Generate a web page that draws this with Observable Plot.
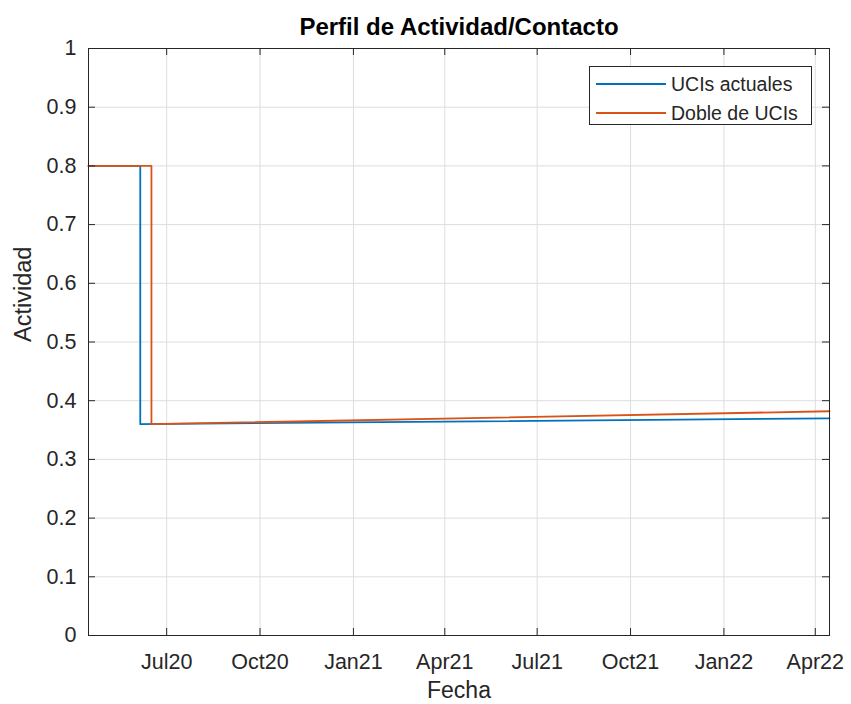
<!DOCTYPE html>
<html>
<head>
<meta charset="utf-8">
<script src="https://cdn.jsdelivr.net/npm/d3@7"></script>
<script src="https://cdn.jsdelivr.net/npm/@observablehq/plot@0.6"></script>
<style>
  body { margin: 0; background: #fff; }
  #wrap { position: relative; width: 851px; height: 704px; font-family: "Liberation Sans", Arial, Helvetica, sans-serif; }
  #legend { position: absolute; left: 589px; top: 66px; width: 221px; height: 57px; border: 1px solid #262626; background: #fff; box-sizing: content-box; }
  .item { position: absolute; left: 0; height: 24px; display: flex; align-items: center; font-size: 19.5px; color: #262626; }
  .item span.sw { display: inline-block; width: 70px; height: 2px; margin-left: 6px; margin-right: 5px; }
</style>
</head>
<body>
<div id="wrap"></div>
<script>
// Series data
const series = ["UCIs actuales", "Doble de UCIs"];
const colors = ["#0072BD", "#D95319"];
const fechasActual = ["2020-04-15", "2020-06-05", "2020-06-05", "2022-04-15"];
const valoresActual = [0.8, 0.8, 0.36, 0.370];
const fechasDoble = ["2020-04-15", "2020-06-16", "2020-06-16", "2022-04-15"];
const valoresDoble = [0.8, 0.8, 0.36, 0.382];
const xTicks = ["2020-07-01", "2020-10-01", "2021-01-01", "2021-04-01", "2021-07-01", "2021-10-01", "2022-01-01", "2022-04-01"];
const xTickLabels = ["Jul20", "Oct20", "Jan21", "Apr21", "Jul21", "Oct21", "Jan22", "Apr22"];
const yTicks = [0, 0.1, 0.2, 0.3, 0.4, 0.5, 0.6, 0.7, 0.8, 0.9, 1];
const yTickLabels = ["0", "0.1", "0.2", "0.3", "0.4", "0.5", "0.6", "0.7", "0.8", "0.9", "1"];
const xDomain = ["2020-04-15", "2022-04-15"];
const title = "Perfil de Actividad/Contacto";
const xLabel = "Fecha";
const yLabel = "Actividad";

const parse = d3.utcParse("%Y-%m-%d");
const toRows = (fechas, vals, s) => fechas.map((f, i) => ({fecha: parse(f), valor: vals[i], serie: s}));
const rowsActual = toRows(fechasActual, valoresActual, series[0]);
const rowsDoble = toRows(fechasDoble, valoresDoble, series[1]);
const xT = xTicks.map(parse);
const xLab = new Map(xT.map((d, i) => [+d, xTickLabels[i]]));
const yLab = new Map(yTicks.map((d, i) => [d, yTickLabels[i]]));

const W = 851, H = 704, mT = 48, mB = 69, mL = 88, mR = 22;
const innerH = H - mT - mB, innerW = W - mL - mR;
const ink = "#262626", grid = "#dedede", tickLen = 7;

const chart = Plot.plot({
  width: W, height: H,
  marginTop: mT, marginBottom: mB, marginLeft: mL, marginRight: mR,
  style: {fontFamily: "'Liberation Sans', Arial, Helvetica, sans-serif", fontSize: "21.5px", color: ink, background: "#fff"},
  x: {type: "utc", domain: xDomain.map(parse)},
  y: {domain: [0, 1]},
  marks: [
    Plot.gridX(xT, {stroke: grid, strokeOpacity: 1}),
    Plot.gridY(yTicks, {stroke: grid, strokeOpacity: 1}),
    Plot.line(rowsActual, {x: "fecha", y: "valor", stroke: colors[0], strokeWidth: 1.8, curve: "linear"}),
    Plot.line(rowsDoble, {x: "fecha", y: "valor", stroke: colors[1], strokeWidth: 1.8, curve: "linear"}),
    Plot.tickX(xT, {x: d => d, insetTop: innerH - tickLen, stroke: ink}),
    Plot.tickX(xT, {x: d => d, insetBottom: innerH - tickLen, stroke: ink}),
    Plot.tickY(yTicks, {y: d => d, insetRight: innerW - tickLen, stroke: ink}),
    Plot.tickY(yTicks, {y: d => d, insetLeft: innerW - tickLen, stroke: ink}),
    Plot.frame({stroke: ink}),
    Plot.axisX(xT, {tickSize: 0, tickPadding: 18, tickFormat: d => xLab.get(+d), label: null, fill: ink}),
    Plot.axisY(yTicks, {tickSize: 0, tickPadding: 12, tickFormat: d => yLab.get(d), label: null, fill: ink}),
    Plot.text([xLabel], {frameAnchor: "bottom", lineAnchor: "middle", dy: 55, fontSize: 23, fill: ink}),
    Plot.text([yLabel], {frameAnchor: "left", lineAnchor: "middle", dx: -65, rotate: -90, fontSize: 23.5, fill: ink}),
    Plot.text([title], {frameAnchor: "top", lineAnchor: "middle", dy: -21, fontSize: 24, fontWeight: "bold", fill: "#000"})
  ]
});

const wrap = document.getElementById("wrap");
wrap.appendChild(chart);
const legend = document.createElement("div");
legend.id = "legend";
series.forEach((s, i) => {
  const item = document.createElement("div");
  item.className = "item";
  item.style.top = (5 + i * 29) + "px";
  const sw = document.createElement("span");
  sw.className = "sw";
  sw.style.background = colors[i];
  item.appendChild(sw);
  item.appendChild(document.createTextNode(s));
  legend.appendChild(item);
});
wrap.appendChild(legend);
</script>
</body>
</html>
